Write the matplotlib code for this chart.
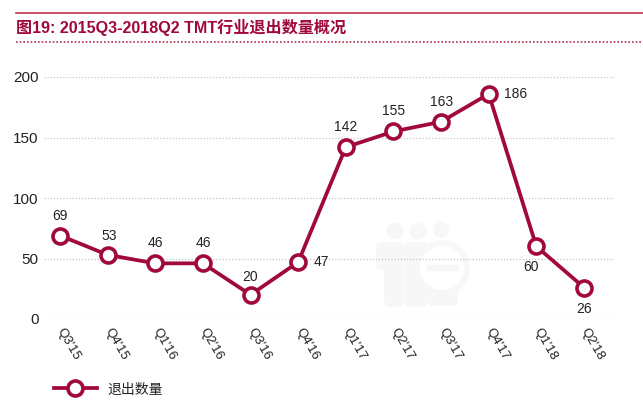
import matplotlib
matplotlib.use("Agg")
import matplotlib.pyplot as plt
from matplotlib.patches import Circle, FancyBboxPatch
from matplotlib.lines import Line2D

plt.rcParams['font.family'] = ['Liberation Sans', 'Noto Sans CJK SC', 'DejaVu Sans']

categories = ["Q3'15", "Q4'15", "Q1'16", "Q2'16", "Q3'16", "Q4'16", "Q1'17", "Q2'17", "Q3'17", "Q4'17", "Q1'18", "Q2'18"]
values = [69, 53, 46, 46, 20, 47, 142, 155, 163, 186, 60, 26]
label_offsets = [(0, 20), (2, 19), (0, 20), (0, 20), (0, 18), (23, 0), (0, 20), (0, 20), (0, 20), (27, 0), (-5, -21), (0, -21)]
series_name = "退出数量"
title = "图19: 2015Q3-2018Q2 TMT行业退出数量概况"
yticks = [0, 50, 100, 150, 200]

RED = "#a0093a"
W, H = 643, 400
fig = plt.figure(figsize=(W / 100, H / 100), dpi=100, facecolor="white")

bg = fig.add_axes([0, 0, 1, 1], zorder=0)
bg.set_xlim(0, W)
bg.set_ylim(H, 0)
bg.axis("off")
bg.plot([16, W], [13, 13], color="#c0334f", lw=1.2)
bg.plot([16, W], [42, 42], color="#b5324f", lw=1.2, ls=(0, (1, 1.2)))
bg.text(16, 28, title, color=RED, fontsize=11.6, fontweight="bold", va="center", ha="left")

# faint watermark
wm = "#f8f7f7"
for cx, cy, r in [(395, 231, 8.5), (418, 231, 8.5), (441, 230, 8)]:
    bg.add_patch(Circle((cx, cy), r, fc=wm, ec="none"))
for x0, x1, y1 in [(376, 405, 270), (384, 404, 307), (405, 428, 307), (428, 458, 306)]:
    bg.add_patch(FancyBboxPatch((x0, 242), x1 - x0, y1 - 242, boxstyle="round,pad=0,rounding_size=6", fc=wm, ec="none"))
bg.add_patch(Circle((442, 268), 25, fc="white", ec=wm, lw=4))
bg.plot([430, 456], [268, 268], color=wm, lw=4.5)

ax = fig.add_axes([44 / W, (H - 319) / H, (614 - 44) / W, (319 - 77) / H], zorder=1)
ax.patch.set_alpha(0)
x = list(range(len(values)))
ax.set_xlim(-0.336, 11.63)
ax.set_ylim(0, 200)
ax.set_yticks(yticks)
ax.yaxis.grid(True, color="#c9c5c0", lw=0.9, ls=(0, (1, 1.5)))
ax.set_axisbelow(True)
for s in ax.spines.values():
    s.set_visible(False)
ax.tick_params(axis="both", length=0)
ax.tick_params(axis="y", labelsize=11, pad=4, labelcolor="#222222")
ax.set_xticks(x)
ax.set_xticklabels(categories, rotation=-60, rotation_mode="anchor", ha="left", va="center", fontsize=9.5, color="#222222")
ax.tick_params(axis="x", pad=7)

line, = ax.plot(x, values, color=RED, lw=2.7, marker="o", ms=10.8, mfc="white", mec=RED, mew=2.6, clip_on=False, zorder=3, label=series_name)
for xi, v, off in zip(x, values, label_offsets):
    ax.annotate(str(v), (xi, v), xytext=(off[0] * 0.72, off[1] * 0.72), textcoords="offset points",
                ha="center", va="center", fontsize=10, color="#222222", zorder=4)

bg.add_line(Line2D([54, 97], [388, 388], color=RED, lw=2.7))
bg.plot([75], [388], marker="o", ms=10.8, mfc="white", mec=RED, mew=2.6, ls="none")
bg.text(107, 390, series_name, fontsize=10, va="center", ha="left", color="#222222")

fig.savefig("out.png", dpi=100)
